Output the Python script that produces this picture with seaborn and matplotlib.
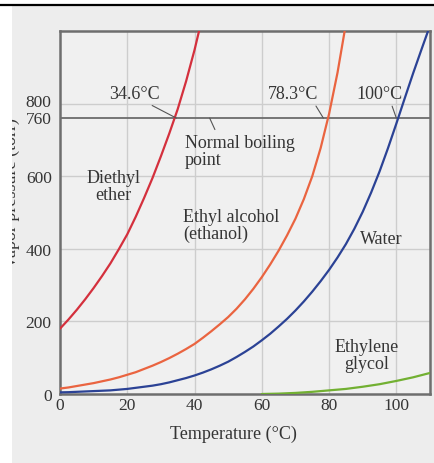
import matplotlib
matplotlib.use("Agg")
import numpy as np
import pandas as pd
import matplotlib.pyplot as plt
import seaborn as sns
from matplotlib.patches import Rectangle
from matplotlib.lines import Line2D
from matplotlib.transforms import ScaledTranslation

# ---------------- data ----------------
ether_t = [0, 2.5, 5, 7.5, 10, 12.5, 15, 17.5, 20, 22.5, 25, 27.5, 30, 32.5, 35,
           37.5, 40, 42.5]
ether_p = [180, 205, 232, 261, 292, 325, 360, 399, 440, 488, 540, 595, 655, 718, 785,
           862, 948, 1045]

ethanol_t = [0, 2.5, 5, 7.5, 10, 12.5, 15, 17.5, 20, 22.5, 25, 27.5, 30, 32.5, 35,
             37.5, 40, 42.5, 45, 47.5, 50, 52.5, 55, 57.5, 60, 62.5, 65, 67.5, 70,
             72.5, 75, 77.5, 80, 82.5, 85, 87.5]
ethanol_p = [15, 18, 22, 26, 30, 35, 40, 46, 53, 60, 69, 78, 88, 99, 111,
             124, 138, 155, 173, 192, 212, 235, 261, 290, 322, 357, 395, 437, 483,
             537, 600, 678, 772, 885, 1020, 1180]

water_t = [0, 2.5, 5, 7.5, 10, 12.5, 15, 17.5, 20, 22.5, 25, 27.5, 30, 32.5, 35,
           37.5, 40, 42.5, 45, 47.5, 50, 52.5, 55, 57.5, 60, 62.5, 65, 67.5, 70,
           72.5, 75, 77.5, 80, 82.5, 85, 87.5, 90, 92.5, 95, 97.5, 100, 102.5, 105,
           107.5, 110]
water_p = [4.5, 5, 6, 7, 8, 9, 10, 12, 14, 17, 20, 23, 27, 32, 38,
           44, 51, 59, 68, 78, 89, 102, 116, 131, 148, 166, 186, 207, 230,
           255, 282, 311, 342, 376, 413, 455, 502, 555, 613, 677, 745, 815, 884,
           950, 1015]

glycol_t = [60, 65, 70, 75, 80, 85, 90, 95, 100, 105, 110]
glycol_p = [0, 1, 3, 6, 10, 14, 20, 27, 36, 46, 58]

substances = ["Diethyl ether", "Ethyl alcohol", "Water", "Ethylene glycol"]
colors = ["#d4303d", "#ea6440", "#2b4295", "#72b032"]

boiling_points = [34.6, 78.3, 100]
boiling_labels = ["34.6°C", "78.3°C", "100°C"]
normal_bp = 760

x_ticks = [0, 20, 40, 60, 80, 100]
y_ticks = [0, 200, 400, 600, 760, 800]
grid_x = [20, 40, 60, 80, 100]
grid_y = [200, 400, 600, 800]

# ---------------- build table ----------------
frames = []
for name, t, p in zip(substances,
                      [ether_t, ethanol_t, water_t, glycol_t],
                      [ether_p, ethanol_p, water_p, glycol_p]):
    frames.append(pd.DataFrame({"T": t, "P": p, "Substance": name}))
df = pd.concat(frames, ignore_index=True)

sns.set_theme(style="white")
plt.rcParams["font.family"] = ["Liberation Serif", "DejaVu Serif"]
txt_color = "#353535"

fig = plt.figure(figsize=(4.34, 4.64), dpi=100)
paper = "#ededed"
fig.patch.set_facecolor(paper)

ax = fig.add_axes([60 / 434, 1 - 395 / 464, 370 / 434, 363 / 464])
ax.set_facecolor("#f0f0f0")

# grid
for gx in grid_x:
    ax.axvline(gx, color="#cdcdcd", lw=1.0, zorder=0.5)
for gy in grid_y:
    ax.axhline(gy, color="#cdcdcd", lw=1.0, zorder=0.5)
ax.axhline(normal_bp, color="#6c6c6c", lw=1.3, zorder=1.5)

sns.lineplot(data=df, x="T", y="P", hue="Substance", hue_order=substances,
             palette=dict(zip(substances, colors)), linewidth=1.6,
             legend=False, ax=ax, sort=False, estimator=None, zorder=3)

ax.set_xlim(0, 110)
ax.set_ylim(0, 1000)
ax.set_xticks(x_ticks)
ax.set_yticks(y_ticks)
ax.set_xticklabels([str(v) for v in x_ticks])
ax.set_yticklabels([str(v) for v in y_ticks])
ax.tick_params(axis="both", length=0, labelsize=12.5, colors=txt_color)
ax.tick_params(axis="y", pad=6)
ax.tick_params(axis="x", pad=2)
# the 800 / 760 labels sit tightly stacked as in the original
for lab in ax.get_yticklabels():
    if lab.get_text() == "800":
        lab.set_transform(lab.get_transform() + ScaledTranslation(0, 2.5 / 72, fig.dpi_scale_trans))
    if lab.get_text() == "760":
        lab.set_transform(lab.get_transform() + ScaledTranslation(0, 0.5 / 72, fig.dpi_scale_trans))

for s in ax.spines.values():
    s.set_visible(True)
    s.set_color("#6e6e6e")
    s.set_linewidth(1.8)

ax.set_xlabel("Temperature (°C)", fontsize=13, color=txt_color)
ax.set_ylabel("Vapor pressure (torr)", fontsize=13, color=txt_color)
ax.xaxis.set_label_coords(0.47, -0.085)
ax.yaxis.set_label_coords(-0.108, 0.556)

# boiling point annotations
label_pos = [(22.0, 829), (69.3, 829), (95.1, 829)]
rel = [(0.71, 0.0), (0.9, 0.0), (0.73, 0.0)]
for bp, lab, pos, rp in zip(boiling_points, boiling_labels, label_pos, rel):
    ax.annotate(lab, xy=(bp, normal_bp), xytext=pos, textcoords="data",
                ha="center", va="center", fontsize=13, color=txt_color,
                arrowprops=dict(arrowstyle="-", color="#555555", lw=0.8,
                                relpos=rp, shrinkA=1, shrinkB=0))

ax.annotate("Normal boiling\npoint", xy=(44.5, normal_bp), xytext=(37.2, 716),
            textcoords="data", ha="left", va="top", fontsize=13, color=txt_color,
            linespacing=1.0,
            arrowprops=dict(arrowstyle="-", color="#555555", lw=0.8,
                            relpos=(0.29, 1.0), shrinkA=1, shrinkB=0))

ax.text(15.8, 573, "Diethyl\nether", ha="center", va="center", fontsize=13,
        color=txt_color, linespacing=1.0)
ax.text(36.6, 465, "Ethyl alcohol\n(ethanol)", ha="left", va="center", fontsize=13,
        color=txt_color, linespacing=1.0)
ax.text(95.4, 427, "Water", ha="center", va="center", fontsize=13, color=txt_color)
ax.text(91.3, 107, "Ethylene\nglycol", ha="center", va="center", fontsize=13,
        color=txt_color, linespacing=1.0)

# page edges of the scan
fig.add_artist(Rectangle((0, 0), 12 / 434, 1, transform=fig.transFigure,
                         facecolor="white", edgecolor="none", zorder=10))
fig.add_artist(Rectangle((0, 1 - 5 / 464), 1, 5 / 464, transform=fig.transFigure,
                         facecolor="white", edgecolor="none", zorder=10))
fig.add_artist(Line2D([0, 1], [1 - 6 / 464, 1 - 6 / 464], transform=fig.transFigure,
                      color="black", lw=1.6, zorder=11))

fig.savefig("out.png", dpi=100, facecolor=fig.get_facecolor())
